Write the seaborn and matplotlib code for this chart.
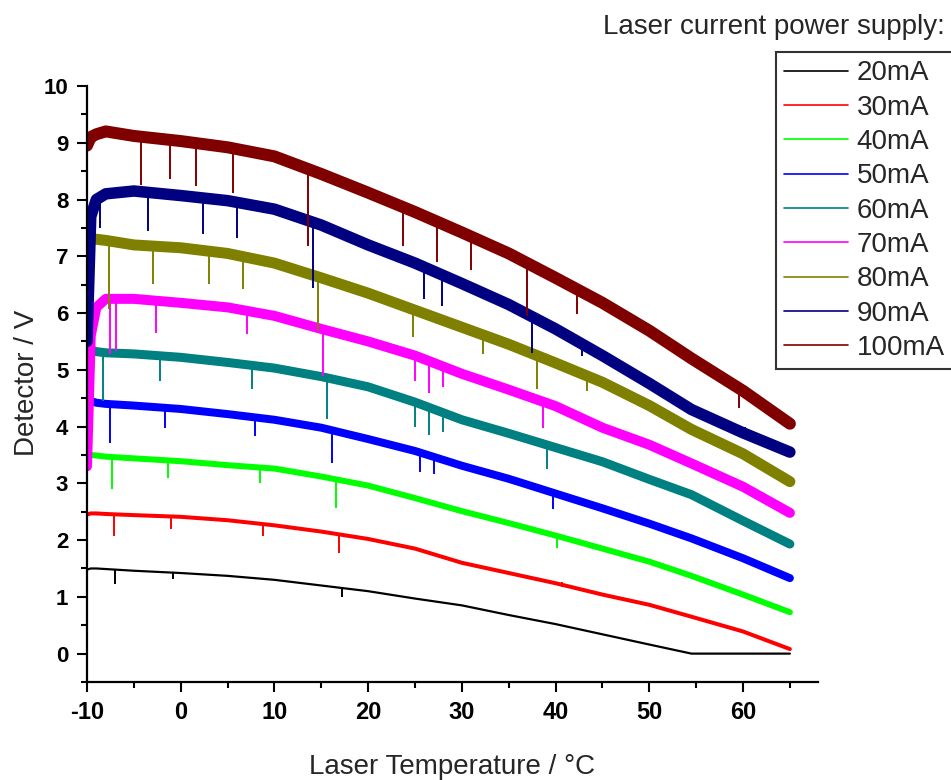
import numpy as np
import pandas as pd
import matplotlib
matplotlib.use("Agg")
import matplotlib.pyplot as plt
import seaborn as sns
from matplotlib.lines import Line2D
from matplotlib.ticker import MultipleLocator

# ---------------- data ----------------
temperature = [-10, -9.6, -9, -8, -5, 0, 5, 10, 15, 20, 25, 30, 35, 40, 45, 50, 54.5, 60, 65]

labels = ["20mA", "30mA", "40mA", "50mA", "60mA", "70mA", "80mA", "90mA", "100mA"]
colors = ["#000000", "#ff0000", "#00ff00", "#0000ff", "#008080",
          "#ff00ff", "#808000", "#000080", "#800000"]

v_20mA = [1.48, 1.50, 1.50, 1.49, 1.46, 1.42, 1.37, 1.30, 1.20, 1.10, 0.97, 0.85, 0.68, 0.52, 0.34, 0.16, 0.00, 0.00, 0.00]
v_30mA = [2.45, 2.47, 2.47, 2.46, 2.44, 2.41, 2.35, 2.26, 2.15, 2.02, 1.85, 1.60, 1.42, 1.24, 1.04, 0.86, 0.65, 0.39, 0.08]
v_40mA = [3.48, 3.50, 3.49, 3.47, 3.44, 3.39, 3.32, 3.26, 3.12, 2.96, 2.74, 2.51, 2.30, 2.08, 1.85, 1.62, 1.37, 1.04, 0.73]
v_50mA = [4.43, 4.45, 4.42, 4.40, 4.37, 4.31, 4.22, 4.12, 3.98, 3.78, 3.57, 3.31, 3.08, 2.82, 2.56, 2.29, 2.03, 1.68, 1.33]
v_60mA = [5.35, 5.35, 5.32, 5.30, 5.28, 5.22, 5.13, 5.03, 4.88, 4.70, 4.43, 4.12, 3.88, 3.63, 3.38, 3.07, 2.80, 2.34, 1.93]
v_70mA = [3.30, 5.60, 6.10, 6.25, 6.25, 6.18, 6.10, 5.95, 5.72, 5.50, 5.25, 4.93, 4.65, 4.36, 3.98, 3.68, 3.35, 2.94, 2.48]
v_80mA = [7.25, 7.30, 7.30, 7.28, 7.20, 7.15, 7.05, 6.88, 6.62, 6.35, 6.05, 5.75, 5.45, 5.12, 4.78, 4.37, 3.95, 3.52, 3.03]
v_90mA = [5.50, 7.70, 8.00, 8.10, 8.15, 8.07, 7.98, 7.83, 7.55, 7.20, 6.88, 6.52, 6.15, 5.72, 5.25, 4.76, 4.30, 3.89, 3.55]
v_100mA = [8.95, 9.10, 9.15, 9.20, 9.12, 9.03, 8.92, 8.76, 8.45, 8.12, 7.78, 7.42, 7.05, 6.62, 6.18, 5.69, 5.20, 4.63, 4.05]

series = [v_20mA, v_30mA, v_40mA, v_50mA, v_60mA, v_70mA, v_80mA, v_90mA, v_100mA]

# prominent downward spikes: temperature, top of spike, bottom of spike
spike_T_20mA = [-7.0, -0.8, 17.2]
spike_top_20mA = [1.48, 1.42, 1.17]
spike_bot_20mA = [1.22, 1.31, 0.99]

spike_T_30mA = [-7.1, -1.0, 8.8, 16.9, 40.7]
spike_top_30mA = [2.45, 2.41, 2.28, 2.12, 1.27]
spike_bot_30mA = [2.07, 2.19, 2.08, 1.78, 1.18]

spike_T_40mA = [-7.3, -1.4, 8.5, 16.6, 40.1]
spike_top_40mA = [3.45, 3.38, 3.27, 3.10, 2.10]
spike_bot_40mA = [2.90, 3.10, 3.00, 2.56, 1.86]

spike_T_50mA = [-7.5, -1.7, 7.9, 16.1, 25.5, 27.0, 39.7]
spike_top_50mA = [4.40, 4.33, 4.15, 3.95, 3.55, 3.48, 2.85]
spike_bot_50mA = [3.71, 3.98, 3.83, 3.36, 3.20, 3.16, 2.54]

spike_T_60mA = [-8.3, -2.2, 7.6, 15.6, 25.0, 26.5, 28.0, 39.1]
spike_top_60mA = [5.30, 5.25, 5.10, 4.85, 4.42, 4.35, 4.25, 3.68]
spike_bot_60mA = [4.45, 4.80, 4.66, 4.13, 4.00, 3.85, 3.90, 3.25]

spike_T_70mA = [-7.5, -6.9, -2.6, 7.1, 15.2, 25.0, 26.5, 28.0, 38.7]
spike_top_70mA = [6.30, 6.30, 6.20, 6.05, 5.70, 5.25, 5.18, 5.05, 4.45]
spike_bot_70mA = [5.28, 5.34, 5.65, 5.63, 4.89, 4.80, 4.60, 4.70, 3.98]

spike_T_80mA = [-7.7, -3.0, 3.0, 6.6, 14.7, 24.8, 32.3, 38.0, 43.3]
spike_top_80mA = [7.20, 7.15, 7.10, 7.00, 6.60, 6.10, 5.60, 5.30, 4.95]
spike_bot_80mA = [6.08, 6.52, 6.52, 6.43, 5.69, 5.57, 5.28, 4.66, 4.63]

spike_T_90mA = [-8.6, -3.5, 2.4, 6.0, 14.1, 26.0, 27.9, 37.5, 42.8, 60.2]
spike_top_90mA = [8.05, 8.10, 8.05, 7.95, 7.60, 6.75, 6.65, 6.00, 5.55, 4.00]
spike_bot_90mA = [7.49, 7.45, 7.40, 7.33, 6.45, 6.25, 6.13, 5.30, 5.25, 3.80]

spike_T_100mA = [-4.2, -1.1, 1.6, 5.6, 13.6, 23.7, 27.3, 31.0, 37.0, 42.3, 59.6]
spike_top_100mA = [9.10, 9.05, 9.00, 8.90, 8.55, 7.85, 7.70, 7.35, 6.95, 6.40, 4.70]
spike_bot_100mA = [8.25, 8.37, 8.23, 8.11, 7.19, 7.19, 6.90, 6.75, 5.95, 5.99, 4.33]

spike_T = [spike_T_20mA, spike_T_30mA, spike_T_40mA, spike_T_50mA, spike_T_60mA,
           spike_T_70mA, spike_T_80mA, spike_T_90mA, spike_T_100mA]
spike_top = [spike_top_20mA, spike_top_30mA, spike_top_40mA, spike_top_50mA, spike_top_60mA,
             spike_top_70mA, spike_top_80mA, spike_top_90mA, spike_top_100mA]
spike_bot = [spike_bot_20mA, spike_bot_30mA, spike_bot_40mA, spike_bot_50mA, spike_bot_60mA,
             spike_bot_70mA, spike_bot_80mA, spike_bot_90mA, spike_bot_100mA]

x_ticks = [-10, 0, 10, 20, 30, 40, 50, 60]
y_ticks = [0, 1, 2, 3, 4, 5, 6, 7, 8, 9, 10]

# ---------------- build long table ----------------
rows = []
for lab, vals in zip(labels, series):
    for t, v in zip(temperature, vals):
        rows.append({"T": t, "V": v, "current": lab})
df = pd.DataFrame(rows)

# band widths (px) imitating the noisy traces
band_px = [2.2, 4.0, 6.0, 8.0, 9.0, 10.0, 11.0, 11.5, 12.0]
sizes = {lab: w * 0.72 for lab, w in zip(labels, band_px)}
palette = dict(zip(labels, colors))

sns.set_theme(style="ticks")
plt.rcParams["font.family"] = ["Liberation Sans", "DejaVu Sans"]
plt.rcParams["axes.unicode_minus"] = False

W, H = 951, 780
fig = plt.figure(figsize=(W / 100, H / 100), dpi=100)
ax = fig.add_axes([87 / W, 1 - 682 / H, (818 - 87) / W, (682 - 86) / H])

sns.lineplot(data=df, x="T", y="V", hue="current", size="current",
             hue_order=labels, size_order=labels, palette=palette, sizes=sizes,
             estimator=None, sort=False, legend=False, ax=ax)

for i, (c, ts, tops, bots) in enumerate(zip(colors, spike_T, spike_top, spike_bot)):
    ax.vlines(ts, bots, tops, colors=c, linewidth=1.4, zorder=2.5 + i * 0.01)

ax.set_xlim(-10, 68)
ax.set_ylim(-0.5, 10)
ax.set_xlabel("")
ax.set_ylabel("")
ax.set_xticks(x_ticks)
ax.set_yticks(y_ticks)
ax.xaxis.set_minor_locator(MultipleLocator(5))
ax.yaxis.set_minor_locator(MultipleLocator(0.5))
ax.set_xticklabels([str(v) for v in x_ticks], fontsize=17, fontweight="bold")
ax.set_yticklabels([str(v) for v in y_ticks], fontsize=16, fontweight="bold")

for s in ["top", "right"]:
    ax.spines[s].set_visible(False)
for s in ["left", "bottom"]:
    ax.spines[s].set_linewidth(1.6)
    ax.spines[s].set_color("black")

ax.tick_params(which="major", direction="out", length=7.5, width=1.5, colors="black")
ax.tick_params(which="minor", direction="out", length=4, width=1.5, colors="black")
ax.tick_params(axis="x", which="major", pad=6.5)
ax.tick_params(axis="y", which="major", pad=6)

fig.text(452 / W, 1 - 767 / H, "Laser Temperature / °C", ha="center", va="center", fontsize=20)
fig.text(27 / W, 1 - 383 / H, "Detector / V", rotation=90, ha="center", va="center", fontsize=20)
fig.text(945 / W, 1 - 27 / H, "Laser current power supply:", ha="right", va="center", fontsize=20)

handles = [Line2D([0], [0], color=c, lw=1.2) for c in colors]
leg = fig.legend(handles, labels, loc="upper left", bbox_to_anchor=(776 / W, 1 - 52 / H),
                 frameon=True, fancybox=False, edgecolor="black", fontsize=20,
                 handlelength=2.3, handletextpad=0.3, labelspacing=0.3,
                 borderpad=0.3, borderaxespad=0)
leg.get_frame().set_linewidth(1.5)

fig.savefig("out.png", dpi=100)
